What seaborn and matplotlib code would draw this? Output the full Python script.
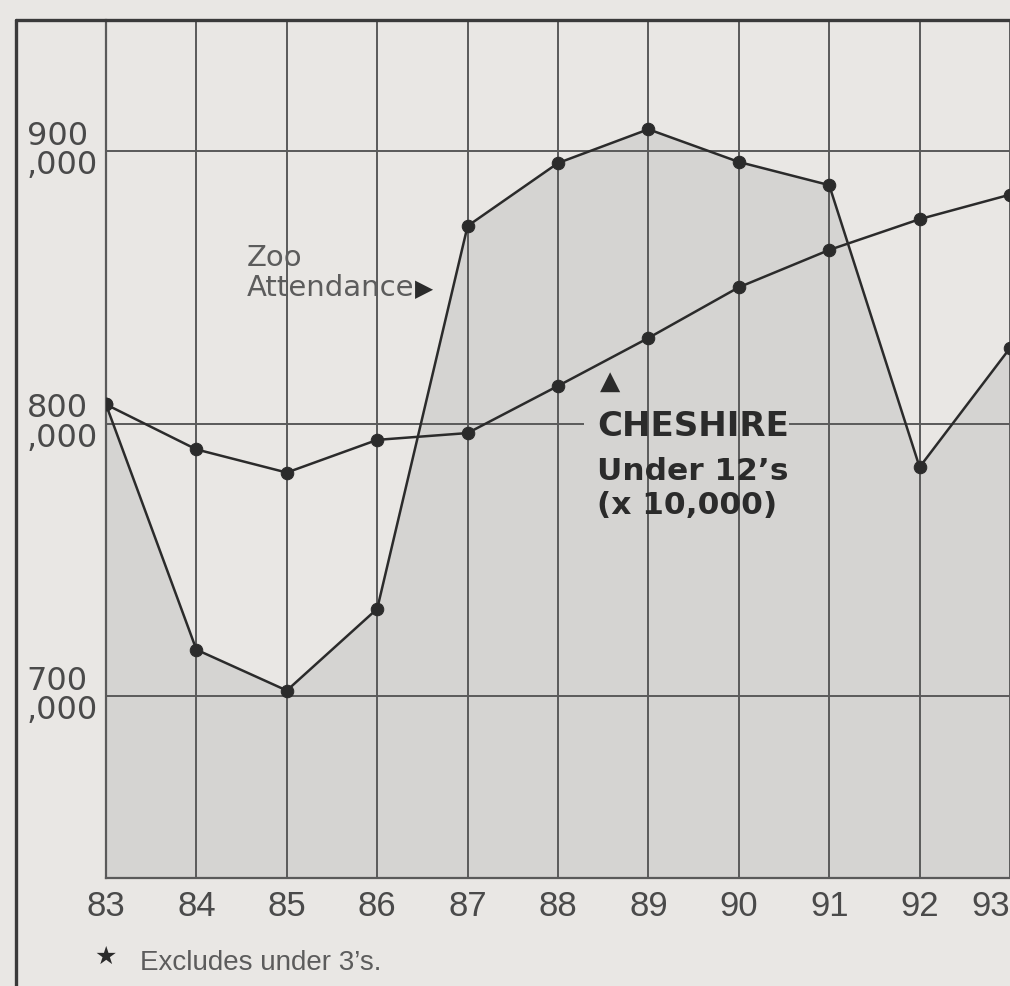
import matplotlib
matplotlib.use("agg")
import matplotlib.pyplot as plt
import seaborn as sns
import pandas as pd
from matplotlib.lines import Line2D

# values
years = [83, 84, 85, 86, 87, 88, 89, 90, 91, 92, 93]
zoo_attendance = [807000, 717000, 702000, 732000, 872500, 895600, 908000, 896000, 887500, 784000, 827700]
cheshire_under12 = [807000, 790500, 782000, 794000, 796500, 813800, 831400, 850000, 863700, 875000, 884000]
y_ticks = [700000, 800000, 900000]
y_tick_labels = ["700\n,000", "800\n,000", "900\n,000"]
x_tick_labels = ["83", "84", "85", "86", "87", "88", "89", "90", "91", "92", "93"]

PAPER = "#e9e7e4"
SHADE = "#d5d4d2"
INK = "#2b2b2b"
GRID = "#5a5a5a"
GREY_TEXT = "#5c5c5c"
NARROW = ["Liberation Sans", "DejaVu Sans"]

sns.set_theme(style="white")
plt.rcParams["font.family"] = ["DejaVu Sans"]

df = pd.DataFrame({"year": years, "zoo": zoo_attendance, "cheshire": cheshire_under12})

fig = plt.figure(figsize=(10.1, 9.86), dpi=100, facecolor=PAPER)
ax = fig.add_axes([106 / 1010, 1 - 878 / 986, 904 / 1010, 858 / 986])
ax.set_facecolor(PAPER)

ax.set_xlim(83, 83 + 904 / 91.1)
ax.set_ylim(633200, 948100)

# shaded area under zoo attendance
ax.fill_between(df["year"], df["zoo"], 633200, color=SHADE, zorder=1, linewidth=0)

# grid
for yr in years[1:]:
    ax.axvline(yr, color=GRID, lw=1.4, zorder=2)
ax.axhline(700000, color=GRID, lw=1.4, zorder=2)
ax.axhline(900000, color=GRID, lw=1.4, zorder=2)
# 800,000 line is broken behind the CHESHIRE label
ax.hlines(800000, 83, 88.29, color=GRID, lw=1.4, zorder=2)
ax.hlines(800000, 90.56, 93, color=GRID, lw=1.4, zorder=2)

sns.lineplot(data=df, x="year", y="zoo", ax=ax, color=INK, lw=1.8, marker="o",
             markersize=9, markeredgecolor=INK, zorder=4)
sns.lineplot(data=df, x="year", y="cheshire", ax=ax, color=INK, lw=1.8, marker="o",
             markersize=9, markeredgecolor=INK, zorder=4)

for side in ["top", "right"]:
    ax.spines[side].set_visible(False)
for side in ["left", "bottom"]:
    ax.spines[side].set_color(GRID)
    ax.spines[side].set_linewidth(1.6)

ax.set_xlabel("")
ax.set_ylabel("")
ax.set_xticks(years)
ax.set_xticklabels(x_tick_labels, fontsize=25, color="#4a4a4a", family=NARROW)
ax.get_xticklabels()[-1].set_ha("right")
ax.set_yticks(y_ticks)
ax.set_yticklabels(y_tick_labels, fontsize=23, color="#4a4a4a", ha="left", va="center")
for lab in ax.get_yticklabels():
    lab.set_linespacing(0.95)
ax.tick_params(axis="x", length=0, pad=9)
ax.tick_params(axis="y", length=0, pad=57)

# annotations
ax.text(84.56, 857800, "Zoo", fontsize=21, color=GREY_TEXT, va="baseline")
ax.text(84.56, 846800, "Attendance", fontsize=21, color=GREY_TEXT, va="baseline")
ax.text(86.42, 846800, "\u25B6", fontsize=17, color=INK, va="baseline")
ax.text(88.58, 810500, "\u25B2", fontsize=19, color=INK, ha="center", va="bottom")
ax.text(88.43, 795400, "CHESHIRE", fontsize=24.5, weight="bold", color=INK, va="baseline")
ax.text(88.43, 779300, "Under 12\u2019s", fontsize=22.5, weight="bold", color=INK, va="baseline")
ax.text(88.43, 766800, "(x 10,000)", fontsize=22.5, weight="bold", color=INK, va="baseline")

# outer frame
fig.add_artist(Line2D([16 / 1010, 1], [1 - 20 / 986, 1 - 20 / 986], color="#3a3a3a", lw=2.4))
fig.add_artist(Line2D([16 / 1010, 16 / 1010], [0, 1 - 20 / 986], color="#3a3a3a", lw=2.4))

# footnote
fig.text(94 / 1010, 1 - 964 / 986, "\u2605", fontsize=18, color=INK, va="baseline")
fig.text(140 / 1010, 1 - 970 / 986, "Excludes under 3\u2019s.", fontsize=20, color=GREY_TEXT,
         va="baseline", family=NARROW)

fig.savefig("out.png", dpi=100, facecolor=PAPER)
